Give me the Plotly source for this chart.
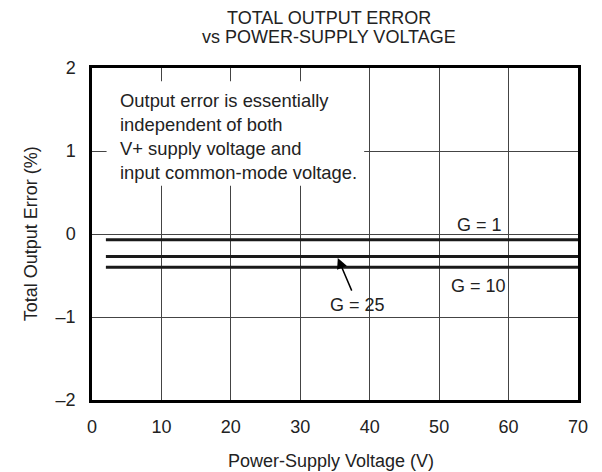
import plotly.graph_objects as go

# Data
voltage = [2, 70]
err_g1 = [-0.07, -0.07]
err_g25 = [-0.27, -0.27]
err_g10 = [-0.40, -0.40]
series_names = ["G = 1", "G = 25", "G = 10"]
x_ticks = [0, 10, 20, 30, 40, 50, 60, 70]
y_ticks = [-2, -1, 0, 1, 2]
y_tick_text = ["\u20132", "\u20131", "0", "1", "2"]

FONT = "Liberation Sans, Arial, sans-serif"
TXT = "#222"
fig = go.Figure()
for name, ys in zip(series_names, [err_g1, err_g25, err_g10]):
    fig.add_trace(go.Scatter(x=voltage, y=ys, mode="lines", name=name,
                             line=dict(color="#1a1a1a", width=3), showlegend=False))

axis_common = dict(showline=True, linecolor="black", linewidth=2.5, mirror=True,
                   showgrid=True, gridcolor="#444", gridwidth=1, zeroline=False,
                   tickfont=dict(family=FONT, size=18, color=TXT),
                   ticks="outside", ticklen=0, ticklabeloverflow="allow")

# page body has an 8px margin; keep the figure box inside the 602x472 window
fig.update_layout(
    width=586, height=456,
    margin=dict(l=84, r=6, t=60, b=64),
    paper_bgcolor="white", plot_bgcolor="white",
    font=dict(family=FONT, color=TXT),
    xaxis=dict(range=[0, 70], tickvals=x_ticks, ticklabelstandoff=9, **axis_common),
    yaxis=dict(range=[-2, 2], tickvals=y_ticks, ticktext=y_tick_text, ticklabelstandoff=10,
               **axis_common),
)

# title (two lines, tight spacing)
fig.add_annotation(xref="paper", yref="paper", x=0.488, y=1.1506, text="TOTAL OUTPUT ERROR",
                   showarrow=False, xanchor="center", yanchor="middle",
                   font=dict(family=FONT, size=18, color=TXT))
fig.add_annotation(xref="paper", yref="paper", x=0.488, y=1.0919, text="vs POWER-SUPPLY VOLTAGE",
                   showarrow=False, xanchor="center", yanchor="middle",
                   font=dict(family=FONT, size=18, color=TXT))
# axis titles (x title kept just inside the figure box)
fig.add_annotation(xref="paper", yref="paper", x=0.492, y=-0.1837, text="Power-Supply Voltage (V)",
                   showarrow=False, xanchor="center", yanchor="middle",
                   font=dict(family=FONT, size=18, color=TXT))
fig.add_annotation(xref="paper", yref="paper", x=-0.125, y=0.5, text="Total Output Error (%)",
                   showarrow=False, xanchor="center", yanchor="middle", textangle=-90,
                   font=dict(family=FONT, size=18, color=TXT))

fig.add_shape(type="rect", xref="x", yref="y", x0=2.1, x1=39.2, y0=0.58, y1=1.84,
              fillcolor="white", line=dict(width=0), layer="between")

fig.add_annotation(xref="x", yref="y", x=3.7, y=1.765, xanchor="left", yanchor="top",
                   text="Output error is essentially<br>independent of both<br>V+ supply voltage and<br>input common-mode voltage.",
                   showarrow=False, align="left",
                   font=dict(family=FONT, size=18.4, color=TXT))

fig.add_annotation(xref="x", yref="y", x=55.8, y=0.11, text="G = 1", showarrow=False,
                   font=dict(family=FONT, size=18, color=TXT))
fig.add_annotation(xref="x", yref="y", x=55.6, y=-0.63, text="G = 10", showarrow=False,
                   font=dict(family=FONT, size=18, color=TXT))
fig.add_annotation(xref="x", yref="y", x=38.3, y=-0.85, text="G = 25", showarrow=False,
                   font=dict(family=FONT, size=18, color=TXT))
fig.add_annotation(xref="x", yref="y", x=35.4, y=-0.29, axref="x", ayref="y", ax=37.5, ay=-0.70,
                   text="", showarrow=True, arrowhead=2, arrowsize=1.4, arrowwidth=1.5,
                   arrowcolor="black")

# the body margin is zeroed after plotting and the figure shifted back by 8px so it fills the window
fig.write_html("out.html", config={"displayModeBar": False, "responsive": False},
               post_script=("document.body.style.margin='0';"
                            "document.body.style.padding='8px 0 0 8px';"
                            "document.querySelectorAll('.main-svg').forEach(function(s){s.style.overflow='visible';});"))
